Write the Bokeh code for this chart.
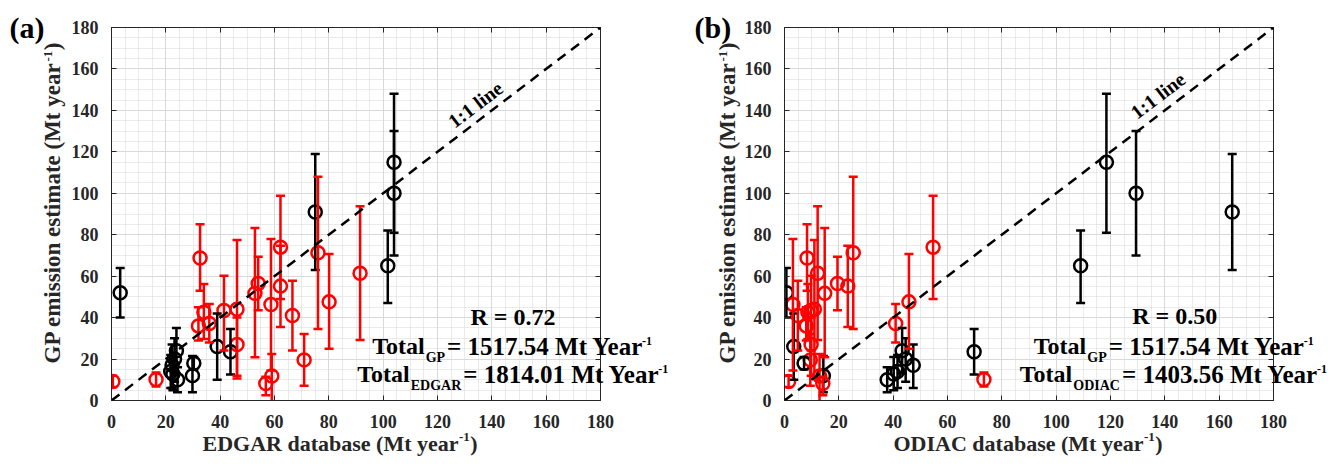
from bokeh.plotting import figure
from bokeh.models import (ColumnDataSource, Range1d, LinearAxis, SingleIntervalTicker,
                          Whisker, TeeHead, Label, Slope, GridBox)
from bokeh.layouts import row, column
from bokeh.embed import file_html
from bokeh.resources import INLINE

# ---------------- data (Mt / year) ----------------
# black group: GP estimate, lower/upper error bar, EDGAR x, ODIAC x
black_gp    = [52, 115, 100, 91, 65, 23.5, 26, 18, 12, 24, 20, 17, 12.8, 10, 14]
black_lo    = [40, 81, 70, 63, 47, 12.5, 10, 15, 4, 13, 9, 6, 5, 4, 6]
black_hi    = [64, 148, 130, 119, 82, 34.5, 42, 21, 21.5, 35, 30, 27, 21, 16, 22]
black_edgar = [3.2, 104, 104, 75, 101.7, 43.8, 38.9, 30.3, 29.8, 23.9, 23.2, 22.3, 22.6, 24.3, 21.8]
black_odiac = [0.7, 118.5, 129.4, 164.8, 109, 69.8, 3.4, 7.2, 14.3, 43.3, 44.6, 47.4, 40.2, 37.8, 41.6]

# red group
red_gp    = [9.2, 10.1, 68.8, 74, 71.3, 47.6, 37.2, 61.4, 56.5, 55.2, 51.7, 46.3, 11.8, 8.2,
             41, 19.6, 44, 27, 43.4, 42.6, 36]
red_lo    = [6.5, 6.8, 53, 49, 34.5, 25, 28, 29.2, 43.5, 35.5, 20.9, 14.5, -2, 2.5,
             24.1, 7.1, 10.6, 12, 24.1, 29.7, 29]
red_hi    = [12, 13.5, 85, 98.8, 108, 70.7, 46.6, 93.8, 69.4, 74.7, 83.3, 77.9, 22.5, 11.5,
             57.8, 32.1, 77.4, 40, 60.2, 56.2, 45]
red_edgar = [0.5, 16.4, 32.6, 62.2, 76, 80.1, 36, 91.5, 54, 62.2, 52.8, 58.7, 59, 56.8,
             66.6, 70.9, 46.2, 46.2, 41.4, 34, 32]
red_odiac = [1.5, 73.4, 8.3, 54.7, 25.3, 45.8, 40.9, 12.2, 19.5, 23.3, 14.8, 3.1, 12.9, 14.1,
             4.9, 9.5, 11, 9.8, 9.8, 8.6, 8]

tick_labels = ["0", "20", "40", "60", "80", "100", "120", "140", "160", "180"]

FONT = "Liberation Serif"
AX = "#262626"
FW, FH = 489, 373
TOP = 27


def build(xb, xr, left_b, right_b):
    p = figure(frame_width=FW, frame_height=FH,
               x_range=Range1d(0, 180), y_range=Range1d(0, 180),
               min_border_left=left_b, min_border_right=right_b,
               min_border_top=TOP, min_border_bottom=65,
               output_backend="svg", toolbar_location=None,
               background_fill_color="white", border_fill_color="white")
    p.outline_line_color = AX
    p.outline_line_width = 1

    for ax in (p.xaxis[0], p.yaxis[0]):
        ax.ticker = SingleIntervalTicker(interval=20, num_minor_ticks=4)
        ax.major_label_overrides = {i * 20: t for i, t in enumerate(tick_labels)}
        ax.major_tick_in = 5
        ax.major_tick_out = 0
        ax.minor_tick_line_color = None
        ax.major_tick_line_color = AX
        ax.axis_line_color = AX
        ax.major_label_text_font = FONT
        ax.major_label_text_font_style = "bold"
        ax.major_label_text_font_size = "18px"
        ax.major_label_text_color = AX
    p.xaxis.major_label_standoff = 10
    p.yaxis.major_label_standoff = 9

    for place in ("above", "right"):
        ax = LinearAxis(ticker=SingleIntervalTicker(interval=20, num_minor_ticks=4),
                        major_tick_in=5, major_tick_out=0, minor_tick_line_color=None,
                        major_label_text_font_size="10px", major_label_text_color=None,
                        major_label_standoff=0,
                        major_tick_line_color=AX, axis_line_color=AX)
        p.add_layout(ax, place)

    for g in (p.xgrid[0], p.ygrid[0]):
        g.grid_line_color = "#d9d9d9"
        g.grid_line_width = 1
        g.minor_grid_line_color = "#d6d6d6"
        g.minor_grid_line_dash = "1 1"
        g.minor_grid_line_width = 1

    p.add_layout(Slope(gradient=1, y_intercept=0, line_color="black",
                       line_width=2.5, line_dash="10 7"))

    groups = [("black", xb, black_gp, black_lo, black_hi),
              ("#ff0000", xr, red_gp, red_lo, red_hi)]
    for color, xs, ys, lo, hi in groups:
        src = ColumnDataSource(dict(x=xs, y=ys, lo=lo, hi=hi))
        w = Whisker(source=src, base="x", lower="lo", upper="hi", dimension="height",
                    line_color=color, line_width=2.5, level="glyph",
                    upper_head=TeeHead(size=9, line_color=color, line_width=2.5),
                    lower_head=TeeHead(size=9, line_color=color, line_width=2.5))
        p.add_layout(w)
        p.scatter("x", "y", source=src, marker="circle", size=13,
                  fill_color=None, line_color=color, line_width=2.5)
    return p


pa = build(black_edgar, red_edgar, 111, 72)
pb = build(black_odiac, red_odiac, 112, 55)

# transparent overlay in page-pixel coordinates for texts that reach outside
# the plot frames (panel letters, axis titles with superscripts, statistics)
ov = figure(frame_width=1328, frame_height=465, title=None,
            x_range=Range1d(0, 1328), y_range=Range1d(465, 0),
            min_border=0, x_axis_type=None, y_axis_type=None, toolbar_location=None,
            output_backend="svg", background_fill_color=None, border_fill_color=None,
            outline_line_color=None)

MID = 0.34  # distance from baseline to text middle, in em


def lab(x, y, text, size, xo=0, yo=0, color="black"):
    """horizontal text; (x, y) = start of the baseline in page pixels"""
    ov.add_layout(Label(x=x, y=y - MID * size, x_offset=xo, y_offset=yo, text=text,
                        text_font=FONT, text_font_style="bold",
                        text_font_size="%spx" % size, text_color=color,
                        text_baseline="middle", text_align="left"))


def vlab(x, y, text, size, color=AX):
    """text reading bottom to top; (x, y) = start of the baseline in page pixels"""
    ov.add_layout(Label(x=x - MID * size, y=y, text=text,
                        text_font=FONT, text_font_style="bold",
                        text_font_size="%spx" % size, text_color=color,
                        text_baseline="middle", text_align="left",
                        angle=90, angle_units="deg"))


sub_w = {"GP": 19.4, "EDGAR": 50.6, "ODIAC": 46.7}
panels = [
    dict(letter="(a)", lx=9, one=(475, 104), r_text="R = 0.72", r=(470, 324.5),
         l2=371.7, l3=356.7, sub="EDGAR", val="1814.01",
         xlab="EDGAR database (Mt year", xlab_w=256, xlab_x=202, ylab_x=60),
    dict(letter="(b)", lx=694, one=(1157.5, 95), r_text="R = 0.50", r=(1131.7, 323.5),
         l2=1033.3, l3=1019.3, sub="ODIAC", val="1403.56",
         xlab="ODIAC database (Mt year", xlab_w=250, xlab_x=893, ylab_x=735),
]
YLAB = "GP emission estimate (Mt year"
for d in panels:
    lab(d["lx"], 37, d["letter"], 30)
    ov.add_layout(Label(x=d["one"][0], y=d["one"][1], text="1:1 line",
                        text_font=FONT, text_font_style="bold", text_font_size="20px",
                        text_color="black", text_align="center", text_baseline="middle",
                        angle=37.3, angle_units="deg"))
    lab(d["r"][0], d["r"][1], d["r_text"], 24)
    for sx, base, sb, val in [(d["l2"], 354, "GP", "1517.54"), (d["l3"], 382, d["sub"], d["val"])]:
        lab(sx, base, "Total", 24)
        s_off = 53.5
        lab(sx, base + 8, sb, 14, xo=s_off)
        m_off = s_off + sub_w[sb] + 2
        lab(sx, base, "= %s Mt Year" % val, 25, xo=m_off)
        lab(sx, base - 9, "-1", 12, xo=m_off + 195)
    # x-axis title
    xs = d["xlab_x"]
    lab(xs, 450, d["xlab"], 22, color=AX)
    lab(xs + d["xlab_w"] + 0.5, 441, "-1", 13, color=AX)
    lab(xs + d["xlab_w"] + 11.8, 450, ")", 22, color=AX)
    # y-axis title (reads bottom to top)
    yx, ybot = d["ylab_x"], 363
    vlab(yx, ybot, YLAB, 23)
    vlab(yx - 8, ybot - 302, "-1", 13)
    vlab(yx, ybot - 313.3, ")", 23)

layout = GridBox(children=[(row(pa, pb), 0, 0), (column(ov), 0, 0)], spacing=0)
open("out.html", "w").write(file_html(layout, INLINE))
